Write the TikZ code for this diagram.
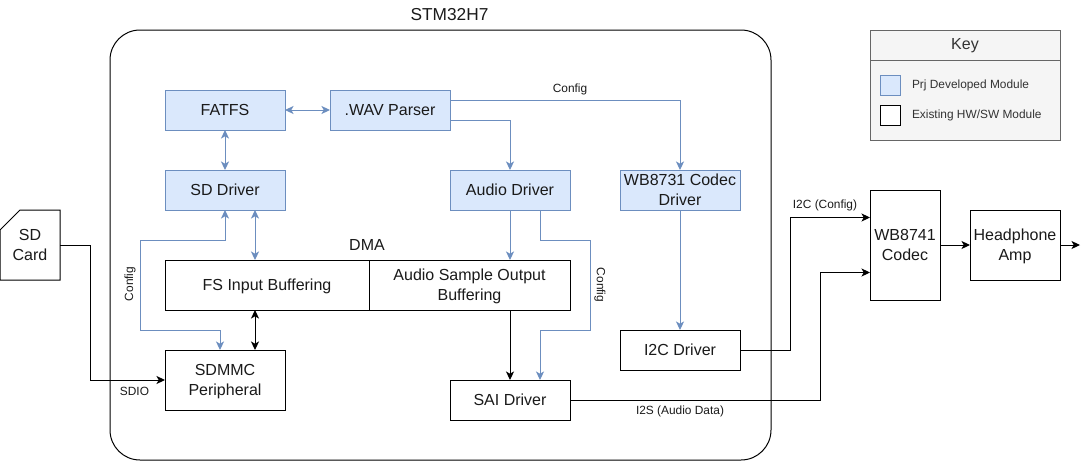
\documentclass[tikz,border=0pt]{standalone}
\usepackage{fontspec}
\setmainfont{Liberation Sans}
\usetikzlibrary{arrows.meta,calc}
\definecolor{bluefill}{HTML}{DAE8FC}
\definecolor{bluedraw}{HTML}{6C8EBF}
\definecolor{keyfill}{HTML}{F5F5F5}
\definecolor{keydraw}{HTML}{666666}
\definecolor{keytext}{HTML}{333333}
\definecolor{ink}{HTML}{1A1A1A}
\tikzset{
  x=1pt,y=-1pt,
  every node/.style={inner sep=0pt,outer sep=0pt,text=ink,font=\fontsize{16}{20}\selectfont,align=center},
  box/.style={draw=black,line width=1pt,fill=white},
  dev/.style={draw=bluedraw,line width=1pt,fill=bluefill},
  small/.style={font=\fontsize{11.9}{14}\selectfont},
  tip/.style={-{Stealth[length=8.5pt,width=8pt,inset=2.2pt]}},
  tips/.style={{Stealth[length=8.5pt,width=8pt,inset=2.2pt]}-{Stealth[length=8.5pt,width=8pt,inset=2.2pt]}},
  blk/.style={draw=black,line width=1pt},
  blu/.style={draw=bluedraw,line width=1pt},
}
\newcommand{\blocknode}[7]{\node[#1,minimum width=#5pt-#3pt,minimum height=#6pt-#4pt] (#2) at ({(#3+#5)/2},{(#4+#6)/2}) {\raisebox{-5.7pt}[0pt][0pt]{\begin{tabular}{@{}c@{}}#7\end{tabular}}};}
\begin{document}
\begin{tikzpicture}
\useasboundingbox (0,0) rectangle (1089,461);
\node[draw=black,line width=1pt,rounded corners=30pt,minimum width=661pt,minimum height=430pt] (mcu) at (440.5,245) {};
\node[font=\fontsize{17.3}{20}\selectfont] (mcutitle) at (449.5,15) {STM32H7};

\blocknode{dev}{fatfs}{165}{90}{285}{130}{FATFS}
\blocknode{dev}{wav}{330}{90}{450}{130}{.WAV Parser}
\blocknode{dev}{sddrv}{165}{170}{285}{210}{SD Driver}
\blocknode{dev}{auddrv}{450}{170}{570}{210}{Audio Driver}
\blocknode{dev}{codecdrv}{620}{170}{740}{210}{WB8731 Codec\\Driver}
\blocknode{box}{fsbuf}{165}{260}{369}{310}{FS Input Buffering}
\blocknode{box}{audbuf}{369}{260}{570}{310}{Audio Sample Output\\Buffering}
\blocknode{box}{sdmmc}{165}{350}{285}{410}{SDMMC\\Peripheral}
\blocknode{box}{sai}{450}{380}{570}{420}{SAI Driver}
\blocknode{box}{i2c}{620}{330}{740}{370}{I2C Driver}
\blocknode{box}{codec}{870}{190}{940}{300}{WB8741\\Codec}
\blocknode{box}{amp}{970}{210}{1060}{280}{Headphone\\Amp}
\node (dma) at (367,245) {DMA};

\draw[box] (20,210) -- (60,210) -- (60,280) -- (0,280) -- (0,230) -- cycle;
\node (sdcard) at (30,245) {SD\\Card};
\coordinate (sdout) at (60,245);
\coordinate (ampout) at (1080,245);

% blue connectors
\draw[blu,tips,bluedraw] (fatfs.east) -- (wav.west);
\draw[blu,tips] (fatfs.south) -- (sddrv.north);
\draw[blu,tip] (wav.east |- 0,100) -- (680,100) -- (codecdrv.north);
\draw[blu,tip] (wav.east |- 0,120) -- (510,120) -- (auddrv.north);
\draw[blu,tips] (sddrv.south) -- (225,240) -- (140,240) -- (140,330) -- (220,330) -- (sdmmc.north -| 220,0);
\draw[blu,tips] (sddrv.south -| 255,0) -- (fsbuf.north -| 255,0);
\draw[blu,tip] (auddrv.south -| 510,0) -- (audbuf.north -| 510,0);
\draw[blu,tip] (auddrv.south -| 540,0) -- (540,240) -- (590,240) -- (590,330) -- (540,330) -- (sai.north -| 540,0);
\draw[blu,tip] (codecdrv.south) -- (i2c.north);

% black connectors
\draw[blk,tips] (fsbuf.south -| 255,0) -- (sdmmc.north -| 255,0);
\draw[blk,tip] (audbuf.south -| 510,0) -- (sai.north -| 510,0);
\draw[blk,tip] (sdout) -- (90,245) -- (90,380) -- (sdmmc.west);
\draw[blk,tip] (i2c.east) -- (790,350) -- (790,217.5) -- (codec.west |- 0,217.5);
\draw[blk,tip] (sai.east) -- (820,400) -- (820,272.5) -- (codec.west |- 0,272.5);
\draw[blk,tip] (codec.east |- amp.west) -- (amp.west);
\draw[blk,tip] (amp.east) -- (ampout);

% connector labels
\node[small] (lcfg1) at (570,89) {Config};
\node[small,rotate=90] (lcfg2) at (130,284) {Config};
\node[small,rotate=-90] (lcfg3) at (600,285) {Config};
\node[small] (lsdio) at (134.5,391.5) {SDIO};
\node[small] (li2c) at (825,205) {I2C (Config)};
\node[small] (li2s) at (680,411) {I2S (Audio Data)};

% key
\node[draw=keydraw,line width=1pt,fill=keyfill,minimum width=190pt,minimum height=110pt] (key) at (965,85) {};
\draw[draw=keydraw,line width=1pt] (key.west |- 0,60) -- (key.east |- 0,60);
\node[text=keytext] (keyt) at (965,46) {Key};
\node[dev,minimum width=20pt,minimum height=20pt] (k1) at (890,85) {};
\node[box,minimum width=20pt,minimum height=20pt] (k2) at (890,115) {};
\node[small,text=keytext,anchor=west] (k1t) at (912,85) {Prj Developed Module};
\node[small,text=keytext,anchor=west] (k2t) at (912,115) {Existing HW/SW Module};
\end{tikzpicture}
\end{document}
